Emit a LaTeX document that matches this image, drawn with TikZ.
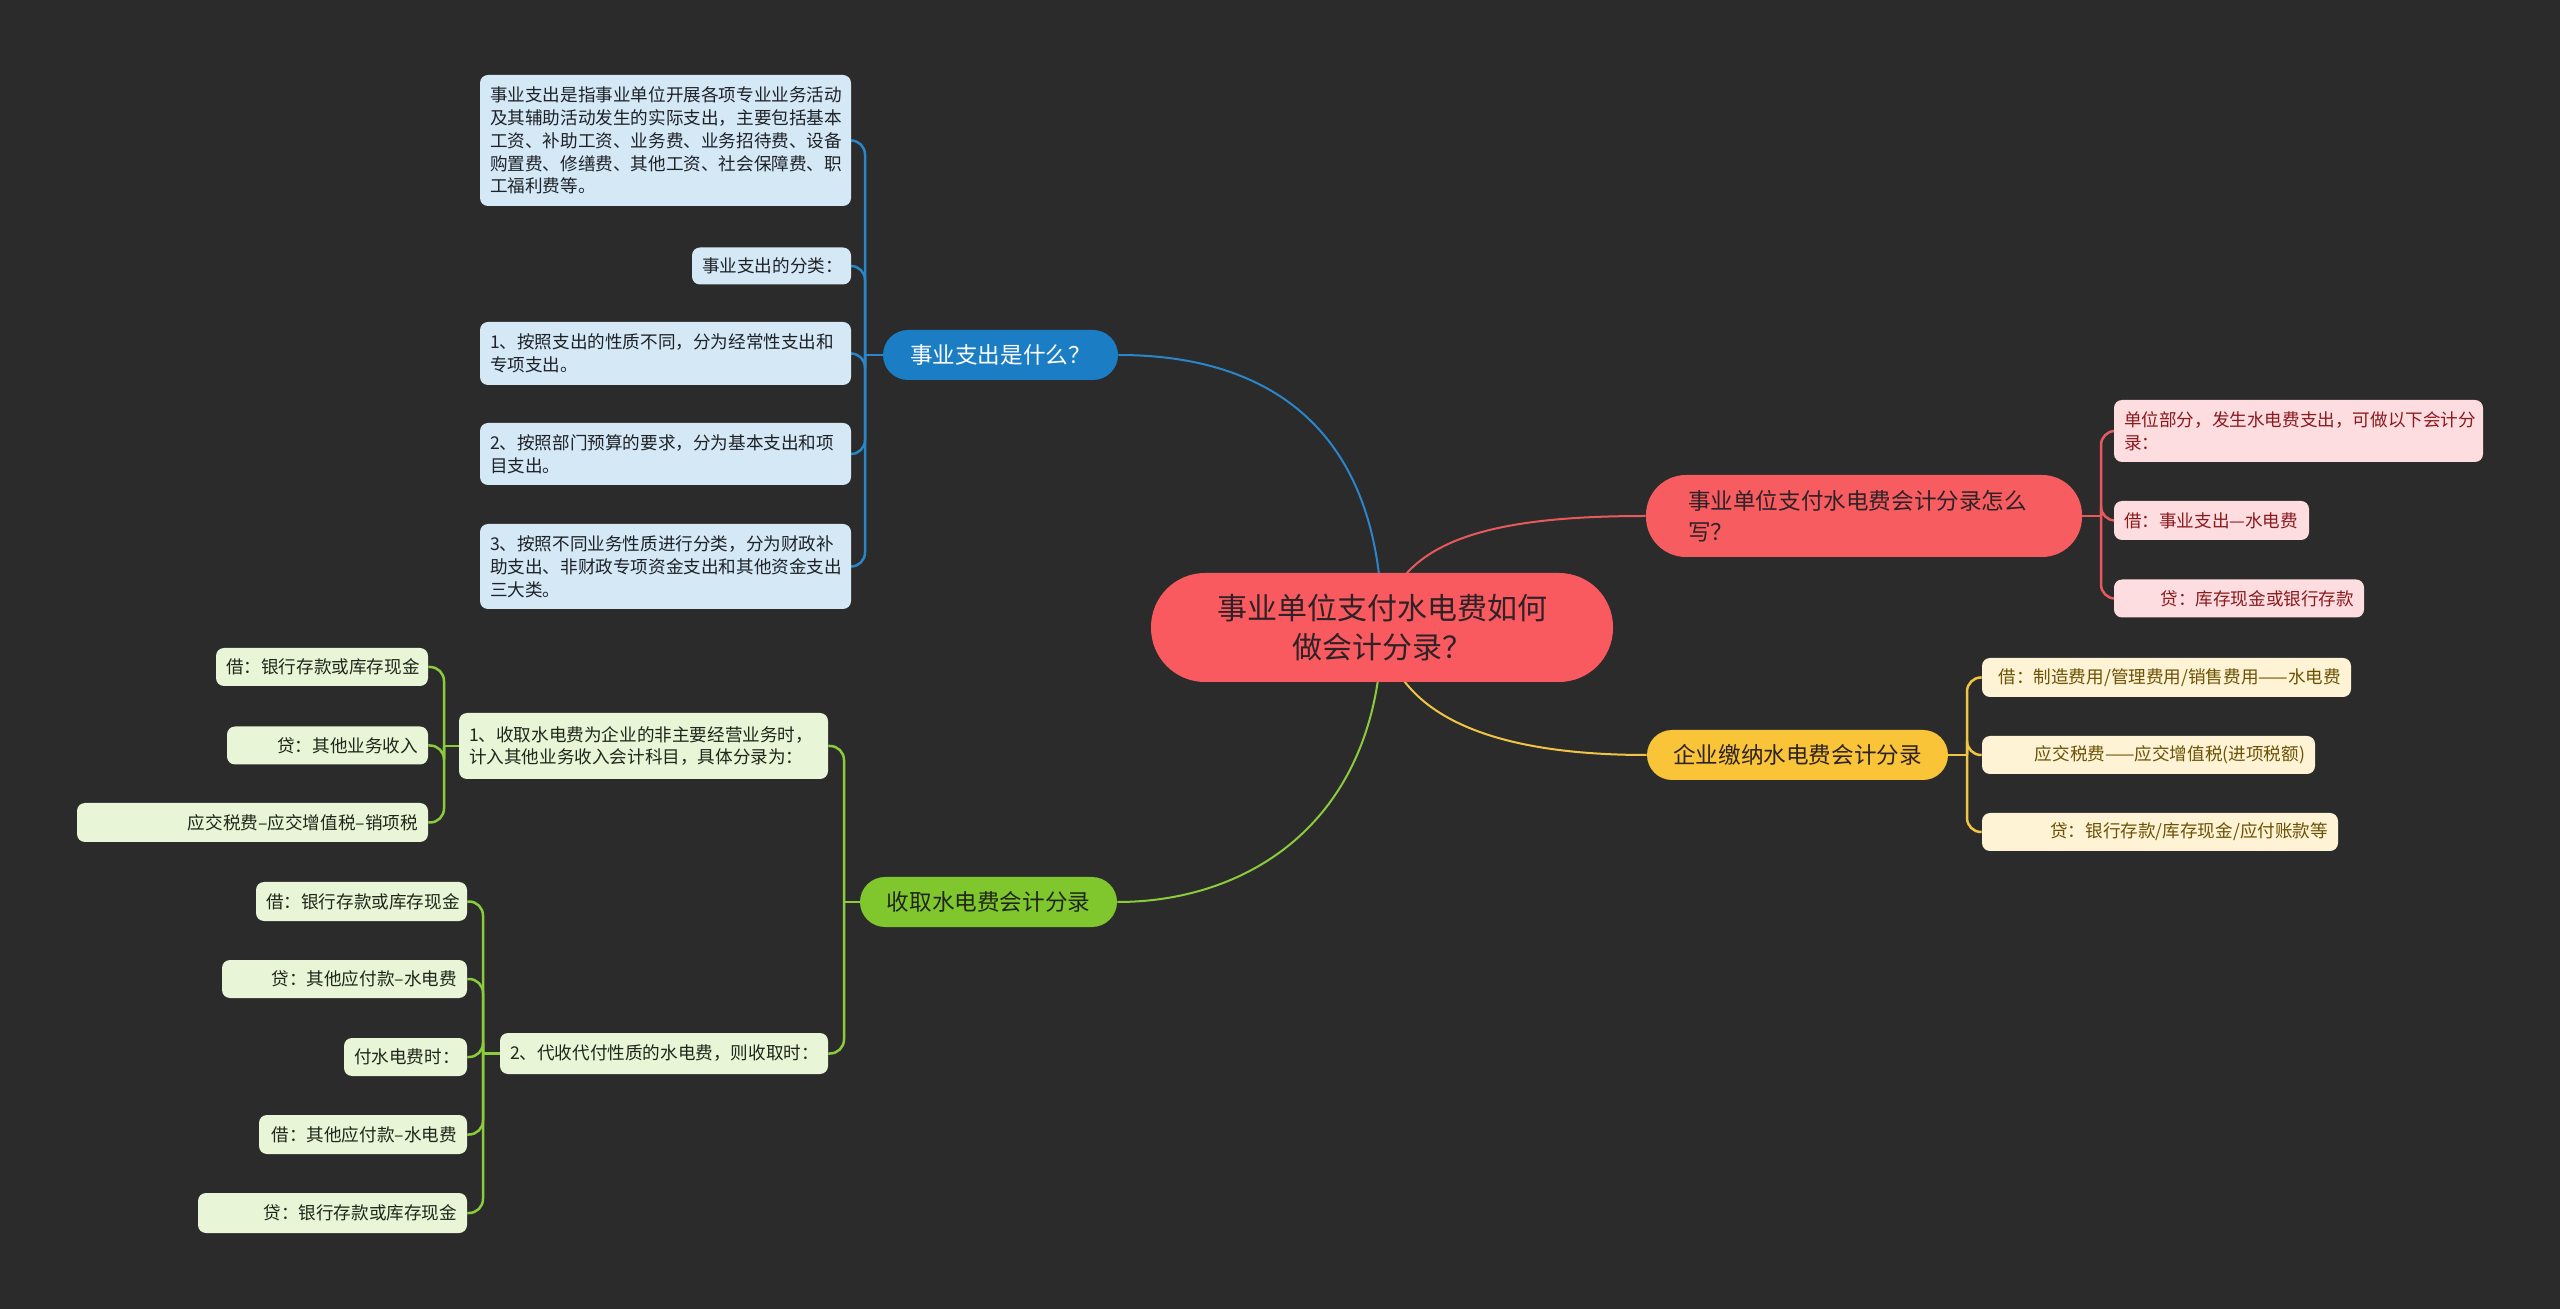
\documentclass[tikz,border=0pt]{standalone}
\usepackage{fontspec}
\setmainfont{Noto Sans CJK SC}
\definecolor{bgc}{HTML}{2B2B2B}
\definecolor{cfill}{HTML}{F95A60}
\definecolor{ctext}{HTML}{2E2226}
\definecolor{bmain}{HTML}{1B7DC4}
\definecolor{bline}{HTML}{2A86C8}
\definecolor{bfill}{HTML}{D5E8F5}
\definecolor{btext}{HTML}{1E2228}
\definecolor{rmain}{HTML}{F65C60}
\definecolor{rline}{HTML}{E65A5E}
\definecolor{rfill}{HTML}{FDDDE0}
\definecolor{rtext}{HTML}{8A1A1E}
\definecolor{ymain}{HTML}{F9C437}
\definecolor{yline}{HTML}{F2C445}
\definecolor{yfill}{HTML}{FFF3D5}
\definecolor{ytext}{HTML}{6A5206}
\definecolor{gmain}{HTML}{80C72E}
\definecolor{gline}{HTML}{8BCB3C}
\definecolor{gfill}{HTML}{E9F5D7}
\definecolor{gtext}{HTML}{20261A}
\pgfdeclarelayer{bglayer}
\pgfdeclarelayer{edges}
\pgfsetlayers{bglayer,edges,main}
\tikzset{
  box/.style={rectangle, rounded corners=4pt, inner xsep=5pt, inner ysep=0pt,
    font=\fontsize{8.8}{11.4}\selectfont},
  bchild/.style={box, fill=bfill, text=btext},
  rchild/.style={box, fill=rfill, text=rtext},
  ychild/.style={box, fill=yfill, text=ytext},
  gchild/.style={box, fill=gfill, text=gtext},
  topic/.style={rectangle, rounded corners=12.5pt, inner sep=0pt,
    font=\fontsize{11.3}{15.5}\selectfont},
  mainline/.style={line width=1pt},
  stemline/.style={line width=1.25pt},
  brline/.style={line width=1.25pt, rounded corners=7pt},
}
\begin{document}
\begin{tikzpicture}[x=0.5pt,y=-0.5pt]
\begin{pgfonlayer}{bglayer}
\fill[bgc] (0,0) rectangle (2560,1309);
\end{pgfonlayer}

% central topic
\node[rectangle, rounded corners=27pt, fill=cfill, text=ctext, inner sep=0pt,
  minimum width=231pt, minimum height=54.5pt, align=center,
  font=\fontsize{15}{19.5}\selectfont] (cn) at (1382,627.5)
  {事业单位支付水电费如何\\做会计分录？};

% blue branch
\node[topic, fill=bmain, text=white, minimum width=117.5pt, minimum height=25pt] (bn) at (1000.5,355) {事业支出是什么？};
\node[bchild, minimum width=185.5pt, minimum height=65.5pt, text width=175.5pt, align=left] (bc1) at (665.5,140.5)
  {事业支出是指事业单位开展各项专业业务活动\\及其辅助活动发生的实际支出，主要包括基本\\工资、补助工资、业务费、业务招待费、设备\\购置费、修缮费、其他工资、社会保障费、职\\工福利费等。};
\node[bchild, minimum width=79.5pt, minimum height=18.5pt, text width=69.5pt, align=right] (bc2) at (771.5,266) {事业支出的分类：};
\node[bchild, minimum width=185.5pt, minimum height=31.5pt, text width=175.5pt, align=left] (bc3) at (665.5,353.5)
  {1、按照支出的性质不同，分为经常性支出和\\专项支出。};
\node[bchild, minimum width=185.5pt, minimum height=31pt, text width=175.5pt, align=left] (bc4) at (665.5,454)
  {2、按照部门预算的要求，分为基本支出和项\\目支出。};
\node[bchild, minimum width=185.5pt, minimum height=42.5pt, text width=175.5pt, align=left] (bc5) at (665.5,566.5)
  {3、按照不同业务性质进行分类，分为财政补\\助支出、非财政专项资金支出和其他资金支出\\三大类。};

% red branch
\node[topic, fill=rmain, text=ctext, rounded corners=20pt, minimum width=218pt, minimum height=41pt,
  text width=176pt, inner xsep=21pt, align=left] (rn) at (1864,516)
  {事业单位支付水电费会计分录怎么\\写？};
\node[rchild, minimum width=184.5pt, minimum height=31pt, text width=174.5pt, align=left] (rc1) at (2298.5,431)
  {单位部分，发生水电费支出，可做以下会计分\\录：};
\node[rchild, minimum width=97.5pt, minimum height=19.5pt, text width=87.5pt, align=left] (rc2) at (2211.5,520.5)
  {\mbox{借：事业支出—水电费}};
\node[rchild, minimum width=125pt, minimum height=19pt, text width=115pt, align=right] (rc3) at (2239,598.5)
  {\mbox{贷：库存现金或银行存款}};

% yellow branch
\node[topic, fill=ymain, text=ctext, minimum width=150.5pt, minimum height=25pt] (yn) at (1797.5,755) {企业缴纳水电费会计分录};
\node[ychild, minimum width=184.5pt, minimum height=19.5pt, text width=174.5pt, align=right] (yc1) at (2166.5,677.5)
  {\mbox{借：制造费用/管理费用/销售费用——水电费}};
\node[ychild, minimum width=166.5pt, minimum height=19pt, text width=156.5pt, align=right] (yc2) at (2148.5,755)
  {\mbox{应交税费——应交增值税(进项税额)}};
\node[ychild, minimum width=178pt, minimum height=19pt, text width=168pt, align=right] (yc3) at (2160,832)
  {\mbox{贷：银行存款/库存现金/应付账款等}};

% green branch
\node[topic, fill=gmain, text=gtext, minimum width=128.5pt, minimum height=25pt] (gn) at (988.5,902) {收取水电费会计分录};
\node[gchild, minimum width=184.5pt, minimum height=33pt, text width=174.5pt, align=left] (ga) at (643.5,746)
  {1、收取水电费为企业的非主要经营业务时，\\计入其他业务收入会计科目，具体分录为：};
\node[gchild, minimum width=164pt, minimum height=20.5pt, text width=154pt, align=left] (gb) at (664,1053.5)
  {\mbox{2、代收代付性质的水电费，则收取时：}};

\node[gchild, minimum width=106pt, minimum height=19pt, text width=96pt, align=right] (a1) at (322,667) {\mbox{借：银行存款或库存现金}};
\node[gchild, minimum width=100.5pt, minimum height=19pt, text width=90.5pt, align=right] (a2) at (327.5,745.5) {\mbox{贷：其他业务收入}};
\node[gchild, minimum width=175.5pt, minimum height=19.5pt, text width=165.5pt, align=right] (a3) at (252.5,822.5) {\mbox{应交税费–应交增值税–销项税}};

\node[gchild, minimum width=105.5pt, minimum height=19.5pt, text width=95.5pt, align=right] (b1) at (361.5,901.5) {\mbox{借：银行存款或库存现金}};
\node[gchild, minimum width=122.5pt, minimum height=19pt, text width=112.5pt, align=right] (b2) at (344.5,979) {\mbox{贷：其他应付款–水电费}};
\node[gchild, minimum width=61.5pt, minimum height=19pt, text width=51.5pt, align=right] (b3) at (405.5,1057) {\mbox{付水电费时：}};
\node[gchild, minimum width=104pt, minimum height=19.5pt, text width=94pt, align=right] (b4) at (363,1134.5) {\mbox{借：其他应付款–水电费}};
\node[gchild, minimum width=134.5pt, minimum height=20pt, text width=124.5pt, align=right] (b5) at (332.5,1213) {\mbox{贷：银行存款或库存现金}};

% spine coordinates
\coordinate (bs) at (865,355);
\coordinate (rs) at (2101,516);
\coordinate (ys) at (1967,755);
\coordinate (gs) at (844,902);
\coordinate (as) at (444,746);
\coordinate (bsp) at (483,1053.5);

\begin{pgfonlayer}{edges}
% main connectors
\draw[mainline, bline] (bn.east) .. controls (1290,355) and (1382,450) .. (cn.center);
\draw[mainline, rline] (cn.center) .. controls (1395,540) and (1490,516) .. (rn.west);
\draw[mainline, yline] (cn.center) .. controls (1395,715) and (1490,755) .. (yn.west);
\draw[mainline, gline] (cn.center) .. controls (1380,820) and (1250,902) .. (gn.east);
% blue brackets
\draw[stemline, bline] (bn.west) -- (bs);
\foreach \c in {bc1,bc2,bc3,bc4,bc5}
  \draw[brline, bline] (bs) -- (bs |- \c.east) -- (\c.east);
% red brackets
\draw[stemline, rline] (rn.east) -- (rs);
\foreach \c in {rc1,rc2,rc3}
  \draw[brline, rline] (rs) -- (rs |- \c.west) -- (\c.west);
% yellow brackets
\draw[stemline, yline] (yn.east) -- (ys);
\foreach \c in {yc1,yc2,yc3}
  \draw[brline, yline] (ys) -- (ys |- \c.west) -- (\c.west);
% green brackets
\draw[stemline, gline] (gn.west) -- (gs);
\foreach \c in {ga,gb}
  \draw[brline, gline] (gs) -- (gs |- \c.east) -- (\c.east);
\draw[stemline, gline] (ga.west) -- (as);
\foreach \c in {a1,a2,a3}
  \draw[brline, gline] (as) -- (as |- \c.east) -- (\c.east);
\draw[stemline, gline] (gb.west) -- (bsp);
\foreach \c in {b1,b2,b3,b4,b5}
  \draw[brline, gline] (bsp) -- (bsp |- \c.east) -- (\c.east);
\end{pgfonlayer}
\end{tikzpicture}
\end{document}
